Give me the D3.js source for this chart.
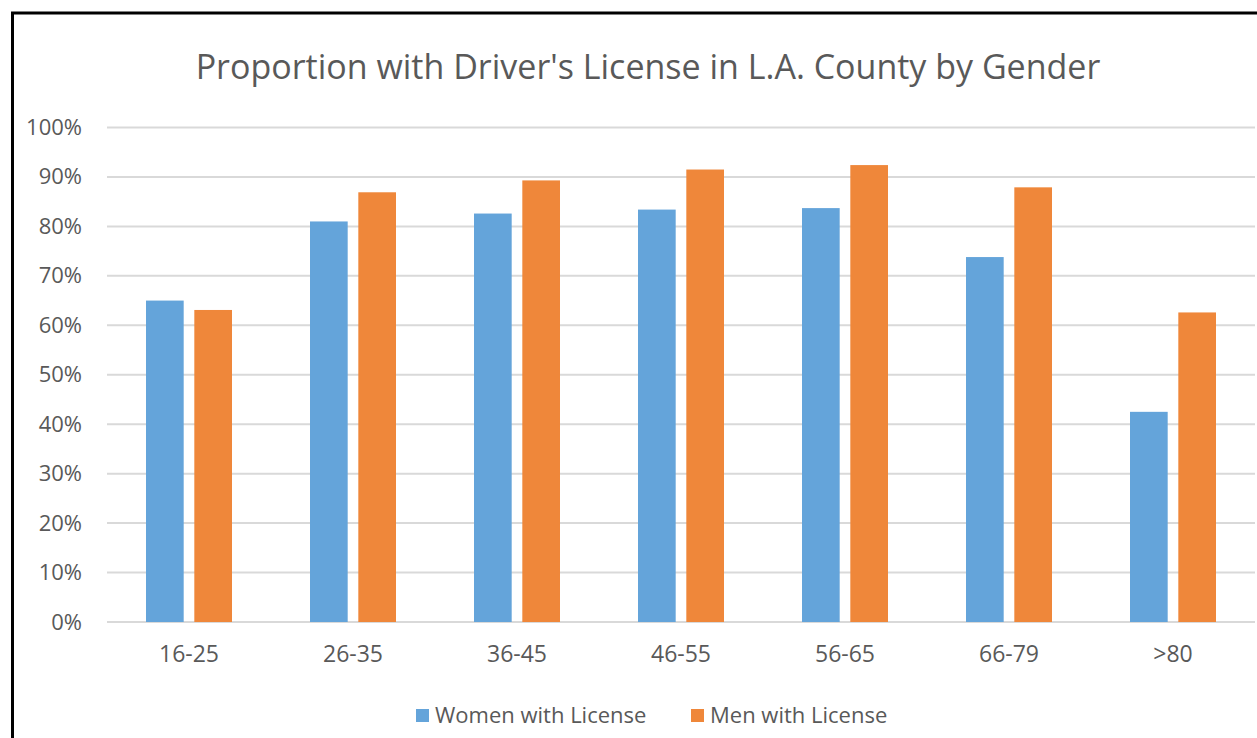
<!DOCTYPE html>
<html>
<head>
<meta charset="utf-8">
<script src="https://cdn.jsdelivr.net/npm/d3@7"></script>
<style>
  html, body { margin: 0; background: #fff; overflow: hidden; }
  svg { display: block; }
  text { font-family: "Open Sans", "Noto Sans", sans-serif; }
</style>
</head>
<body>
<svg></svg>
<script>
// data
let categories = ["16-25", "26-35", "36-45", "46-55", "56-65", "66-79", ">80"];
let women = [65.0, 81.0, 82.6, 83.4, 83.7, 73.8, 42.5];
let men = [63.1, 86.9, 89.3, 91.5, 92.4, 87.9, 62.6];
let seriesNames = ["Women with License", "Men with License"];
let yTicks = [0, 10, 20, 30, 40, 50, 60, 70, 80, 90, 100];

let svgWidth = 1257;
let svgHeight = 738;
let colors = ["#64a4da", "#ef873a"];

let svg = d3.select("svg")
    .attr("width", svgWidth)
    .attr("height", svgHeight);

// frame: only left and top edges show in the crop
svg.append("path")
    .attr("d", "M12.5,738 L12.5,13 L1257,13")
    .attr("fill", "none")
    .attr("stroke", "#000")
    .attr("stroke-width", 3);

let x = d3.scaleBand()
    .domain(categories)
    .range([107, 1255]);

let y = d3.scaleLinear()
    .domain([0, 100])
    .range([622, 127.5]);

// inner band for the two bars of each group
let x1 = d3.scaleBand()
    .domain([0, 1])
    .range([39, 125])
    .paddingInner(0.22);

// gridlines
svg.append("g")
    .selectAll("line")
    .data(yTicks)
    .enter()
    .append("line")
    .attr("x1", 107)
    .attr("x2", 1255)
    .attr("y1", d => y(d))
    .attr("y2", d => y(d))
    .attr("stroke", "#d9d9d9")
    .attr("stroke-width", 2);

// y axis labels
let yAxis = svg.append("g")
    .attr("transform", "translate(82,0)")
    .call(d3.axisLeft(y).tickValues(yTicks).tickSize(0).tickPadding(0).tickFormat(d => d + "%"));
yAxis.select(".domain").remove();
yAxis.selectAll("text")
    .attr("fill", "#595959")
    .style("font-size", "22px")
    .style("font-family", "'Open Sans', sans-serif");

// x axis labels
let xAxis = svg.append("g")
    .attr("transform", "translate(0,622)")
    .call(d3.axisBottom(x).tickSize(0).tickPadding(24));
xAxis.select(".domain").remove();
xAxis.selectAll("text")
    .attr("fill", "#595959")
    .style("font-size", "23px")
    .style("font-family", "'Open Sans', sans-serif");

// bars
let rows = categories.map((c, i) => ({ cat: c, vals: [women[i], men[i]] }));
let groups = svg.append("g")
    .selectAll("g")
    .data(rows)
    .enter()
    .append("g")
    .attr("transform", d => "translate(" + x(d.cat) + ",0)");

groups.selectAll("rect")
    .data(d => d.vals.map((v, k) => ({ v: v, k: k })))
    .enter()
    .append("rect")
    .attr("x", d => x1(d.k))
    .attr("width", x1.bandwidth())
    .attr("y", d => y(d.v))
    .attr("height", d => y(0) - y(d.v))
    .attr("fill", d => colors[d.k]);

// title
svg.append("text")
    .attr("x", 648)
    .attr("y", 79)
    .attr("text-anchor", "middle")
    .attr("fill", "#595959")
    .style("font-size", "34px")
    .text("Proportion with Driver's License in L.A. County by Gender");

// legend
let legendX = [416, 691];
let legend = svg.append("g")
    .selectAll("g")
    .data(seriesNames)
    .enter()
    .append("g")
    .attr("transform", (d, i) => "translate(" + legendX[i] + ",709)");
legend.append("rect")
    .attr("width", 13)
    .attr("height", 13)
    .attr("fill", (d, i) => colors[i]);
legend.append("text")
    .attr("x", 19)
    .attr("y", 14)
    .attr("fill", "#595959")
    .style("font-size", "22px")
    .text(d => d);
</script>
</body>
</html>
